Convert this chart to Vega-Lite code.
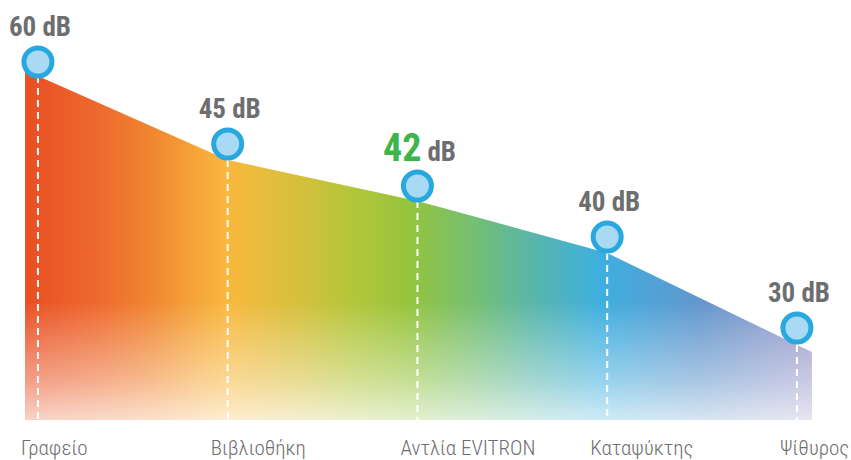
{
  "$schema": "https://vega.github.io/schema/vega-lite/v6.json",
  "width": 851,
  "height": 460,
  "autosize": {"type": "none"},
  "padding": 0,
  "background": "white",
  "config": {"view": {"stroke": null}},
  "datasets": {
    "pts": [
      {"place": "Γραφείο", "i": 0, "db": "60", "level": 358, "edge": 344},
      {"place": "Βιβλιοθήκη", "i": 1, "db": "45", "level": 276, "edge": 260},
      {"place": "Αντλία EVITRON", "i": 2, "db": "42", "level": 234, "edge": 219},
      {"place": "Καταψύκτης", "i": 3, "db": "40", "level": 183, "edge": 167},
      {"place": "Ψίθυρος", "i": 4, "db": "30", "level": 92, "edge": 75}
    ],
    "area": [
      {"pos": -0.068, "top": 350},
      {"pos": 0, "top": 344},
      {"pos": 1, "top": 260},
      {"pos": 2, "top": 219},
      {"pos": 3, "top": 167},
      {"pos": 4, "top": 75},
      {"pos": 4.079, "top": 68}
    ]
  },
  "layer": [
    {
      "data": {"name": "area"},
      "mark": {
        "type": "area",
        "interpolate": "linear",
        "fill": {
          "gradient": "linear", "x1": 0, "y1": 0, "x2": 1, "y2": 0,
          "stops": [
            {"offset": 0, "color": "#E94E24"},
            {"offset": 0.095, "color": "#EE6A2E"},
            {"offset": 0.159, "color": "#F08530"},
            {"offset": 0.222, "color": "#F6A83A"},
            {"offset": 0.258, "color": "#F9B83E"},
            {"offset": 0.349, "color": "#D5C03C"},
            {"offset": 0.413, "color": "#B5C63A"},
            {"offset": 0.489, "color": "#95C43D"},
            {"offset": 0.578, "color": "#72BE78"},
            {"offset": 0.654, "color": "#56B5B0"},
            {"offset": 0.731, "color": "#3EAFE0"},
            {"offset": 0.858, "color": "#6296CC"},
            {"offset": 1, "color": "#A09CCB"}
          ]
        }
      },
      "encoding": {
        "x": {"field": "pos", "type": "quantitative", "scale": {"domain": [-0.2, 4.285], "nice": false, "zero": false}, "axis": null},
        "y": {"field": "top", "type": "quantitative", "scale": {"domain": [-40, 420], "nice": false, "zero": false}, "axis": null},
        "y2": {"datum": 0}
      }
    },
    {
      "data": {"name": "area"},
      "mark": {
        "type": "area",
        "interpolate": "linear",
        "fill": {
          "gradient": "linear", "x1": 0, "y1": 0, "x2": 0, "y2": 1,
          "stops": [
            {"offset": 0, "color": "rgba(255,255,255,0)"},
            {"offset": 0.66, "color": "rgba(255,255,255,0)"},
            {"offset": 0.886, "color": "rgba(255,255,255,0.45)"},
            {"offset": 1, "color": "rgba(255,255,255,0.75)"}
          ]
        }
      },
      "encoding": {
        "x": {"field": "pos", "type": "quantitative"},
        "y": {"field": "top", "type": "quantitative"},
        "y2": {"datum": 0}
      }
    },
    {
      "data": {"name": "pts"},
      "mark": {"type": "rule", "color": "white", "strokeWidth": 2, "strokeDash": [7, 5]},
      "encoding": {
        "x": {"field": "i", "type": "quantitative"},
        "y": {"field": "edge", "type": "quantitative"},
        "y2": {"datum": 0}
      }
    },
    {
      "data": {"name": "pts"},
      "mark": {"type": "point", "shape": "circle", "filled": false, "size": 784, "fill": "#A9DAF3", "fillOpacity": 1, "stroke": "#29A8E0", "strokeWidth": 5, "opacity": 1},
      "encoding": {
        "x": {"field": "i", "type": "quantitative"},
        "y": {"field": "level", "type": "quantitative"}
      }
    },
    {
      "data": {"name": "pts"},
      "transform": [{"filter": "datum.db != '42'"}, {"calculate": "datum.db + ' dB'", "as": "lbl"}],
      "mark": {"type": "text", "align": "center", "baseline": "alphabetic", "dy": -26, "dx": 2, "font": "'Roboto Condensed', Roboto, sans-serif", "fontWeight": "bold", "fontSize": 27, "color": "#6D6E70"},
      "encoding": {
        "x": {"field": "i", "type": "quantitative"},
        "y": {"field": "level", "type": "quantitative"},
        "text": {"field": "lbl"}
      }
    },
    {
      "data": {"name": "pts"},
      "transform": [{"filter": "datum.db == '42'"}],
      "mark": {"type": "text", "align": "right", "baseline": "alphabetic", "dy": -25, "dx": 4, "font": "'Roboto Condensed', Roboto, sans-serif", "fontWeight": "bold", "fontSize": 38, "color": "#3DB54A"},
      "encoding": {
        "x": {"field": "i", "type": "quantitative"},
        "y": {"field": "level", "type": "quantitative"},
        "text": {"field": "db"}
      }
    },
    {
      "data": {"name": "pts"},
      "transform": [{"filter": "datum.db == '42'"}],
      "mark": {"type": "text", "align": "left", "baseline": "alphabetic", "dy": -25, "dx": 10, "font": "'Roboto Condensed', Roboto, sans-serif", "fontWeight": "bold", "fontSize": 27, "color": "#6D6E70", "text": "dB"},
      "encoding": {
        "x": {"field": "i", "type": "quantitative"},
        "y": {"field": "level", "type": "quantitative"}
      }
    },
    {
      "data": {"name": "pts"},
      "mark": {"type": "text", "align": "left", "baseline": "alphabetic", "dx": -17, "font": "'Roboto Condensed', Roboto, sans-serif", "fontWeight": 300, "fontSize": 21, "color": "#6D6E70"},
      "encoding": {
        "x": {"field": "i", "type": "quantitative"},
        "y": {"datum": -35},
        "text": {"field": "place"}
      }
    }
  ]
}
